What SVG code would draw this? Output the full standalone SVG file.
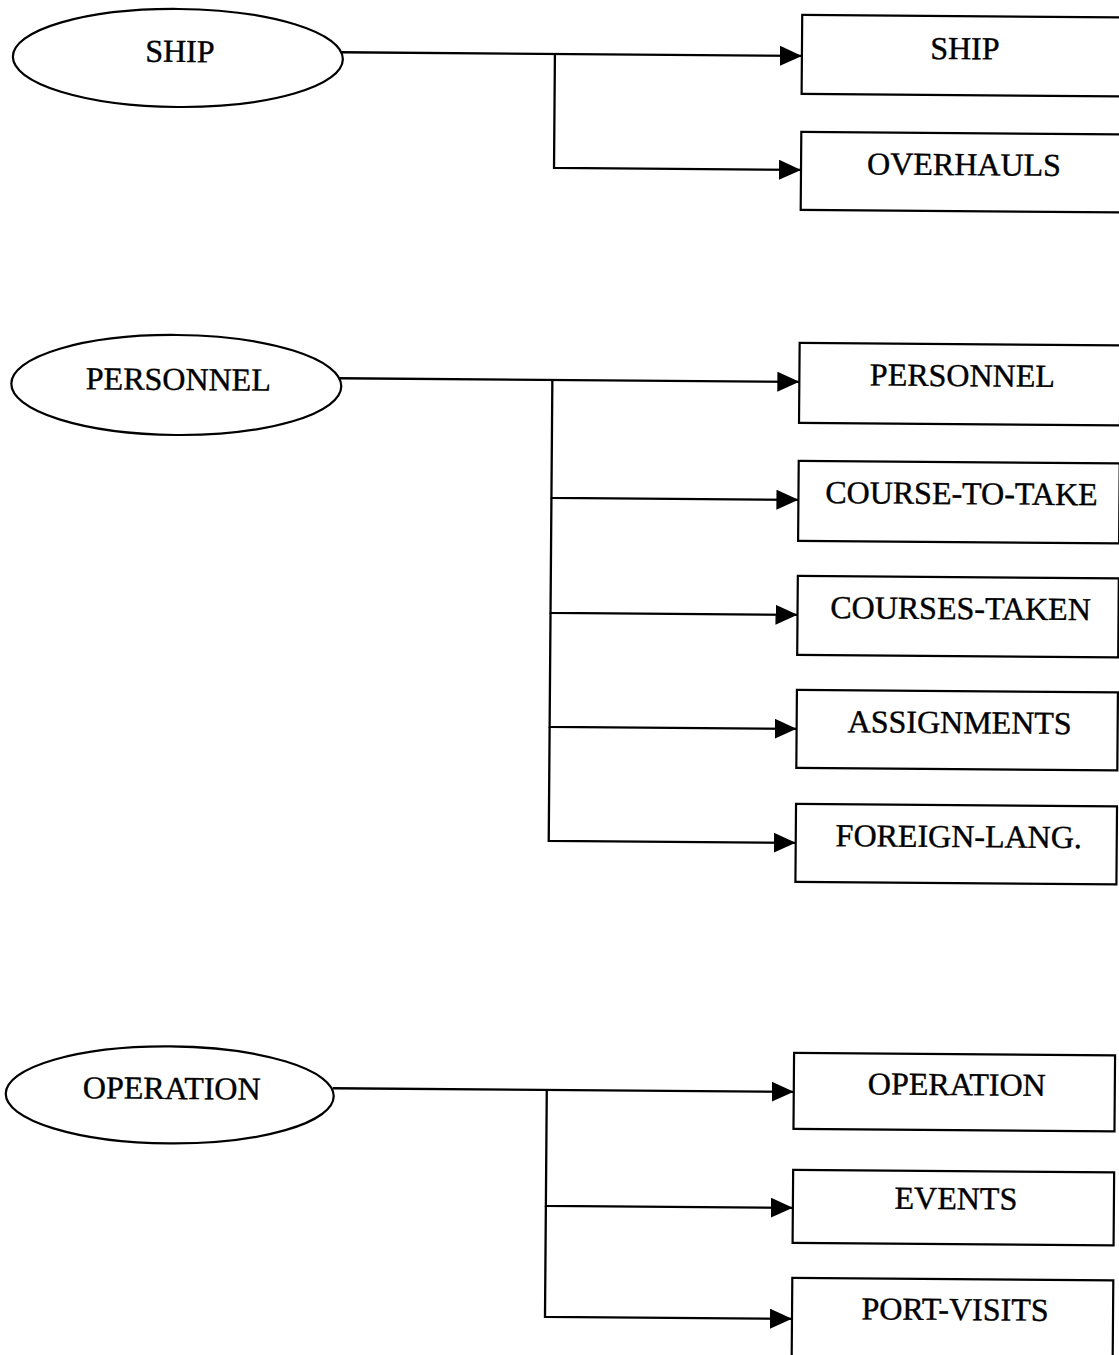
<svg xmlns="http://www.w3.org/2000/svg" width="1119" height="1355" viewBox="0 0 1119 1355">
  <style>
    .ent { fill: #fff; stroke: #000; stroke-width: 2.2; }
    .tbl { fill: #fff; stroke: #000; stroke-width: 2.2; }
    .lbl { font-family: "Liberation Serif", "Times New Roman", serif; font-size: 32px; fill: #000; stroke: #000; stroke-width: 0.4; text-anchor: middle; }
    .wire { fill: none; stroke: #000; stroke-width: 2.3; }
  </style>
  <defs>
    <marker id="arrow" markerUnits="userSpaceOnUse" markerWidth="24" markerHeight="22" refX="22" refY="10" orient="auto">
      <path d="M0,0 L22,10 L0,20 Z" fill="#000"/>
    </marker>
  </defs>
  <rect x="0" y="0" width="1119" height="1355" fill="#fff"/>
  <!-- whole sheet sits slightly turned -->
  <g transform="rotate(0.45 560 680)">
    <!-- SHIP group -->
    <g id="ship-entity">
      <ellipse class="ent" cx="173" cy="61" rx="165" ry="49"/>
      <text class="lbl" x="175" y="65">SHIP</text>
    </g>
    <g id="ship-table">
      <rect class="tbl" x="797" y="13" width="321" height="79"/>
      <text class="lbl" x="960" y="56">SHIP</text>
    </g>
    <g id="overhauls-table">
      <rect class="tbl" x="797" y="130" width="321" height="78"/>
      <text class="lbl" x="960" y="172">OVERHAULS</text>
    </g>

    <!-- PERSONNEL group -->
    <g id="personnel-entity">
      <ellipse class="ent" cx="174" cy="388" rx="165" ry="50"/>
      <text class="lbl" x="176" y="393">PERSONNEL</text>
    </g>
    <g id="personnel-table">
      <rect class="tbl" x="797" y="341" width="321" height="80"/>
      <text class="lbl" x="960" y="383">PERSONNEL</text>
    </g>
    <g id="course-to-take-table">
      <rect class="tbl" x="797" y="459" width="321" height="80"/>
      <text class="lbl" x="960" y="501">COURSE-TO-TAKE</text>
    </g>
    <g id="courses-taken-table">
      <rect class="tbl" x="797" y="574" width="321" height="79"/>
      <text class="lbl" x="960" y="616">COURSES-TAKEN</text>
    </g>
    <g id="assignments-table">
      <rect class="tbl" x="797" y="688" width="321" height="78"/>
      <text class="lbl" x="960" y="730">ASSIGNMENTS</text>
    </g>
    <g id="foreign-lang-table">
      <rect class="tbl" x="797" y="802" width="321" height="78"/>
      <text class="lbl" x="960" y="844">FOREIGN-LANG.</text>
    </g>

    <!-- OPERATION group -->
    <g id="operation-entity">
      <ellipse class="ent" cx="173" cy="1098" rx="164" ry="48.5"/>
      <text class="lbl" x="175" y="1102">OPERATION</text>
    </g>
    <g id="operation-table">
      <rect class="tbl" x="797" y="1051" width="321" height="76"/>
      <text class="lbl" x="960" y="1092">OPERATION</text>
    </g>
    <g id="events-table">
      <rect class="tbl" x="797" y="1168" width="321" height="73"/>
      <text class="lbl" x="960" y="1206">EVENTS</text>
    </g>
    <g id="port-visits-table">
      <rect class="tbl" x="797" y="1276" width="321" height="82"/>
      <text class="lbl" x="960" y="1317">PORT-VISITS</text>
    </g>

    <!-- connectors -->
    <g id="connectors">
      <path class="wire" d="M336,54 H797" marker-end="url(#arrow)"/>
      <path class="wire" d="M550,54 V168 H797" marker-end="url(#arrow)"/>

      <path class="wire" d="M337,380 H797" marker-end="url(#arrow)"/>
      <path class="wire" d="M550,380 V498 H797" marker-end="url(#arrow)"/>
      <path class="wire" d="M550,498 V613 H797" marker-end="url(#arrow)"/>
      <path class="wire" d="M550,613 V727 H797" marker-end="url(#arrow)"/>
      <path class="wire" d="M550,727 V841 H797" marker-end="url(#arrow)"/>

      <path class="wire" d="M336,1090 H797" marker-end="url(#arrow)"/>
      <path class="wire" d="M550,1090 V1206 H797" marker-end="url(#arrow)"/>
      <path class="wire" d="M550,1206 V1317 H797" marker-end="url(#arrow)"/>
    </g>
  </g>
</svg>
